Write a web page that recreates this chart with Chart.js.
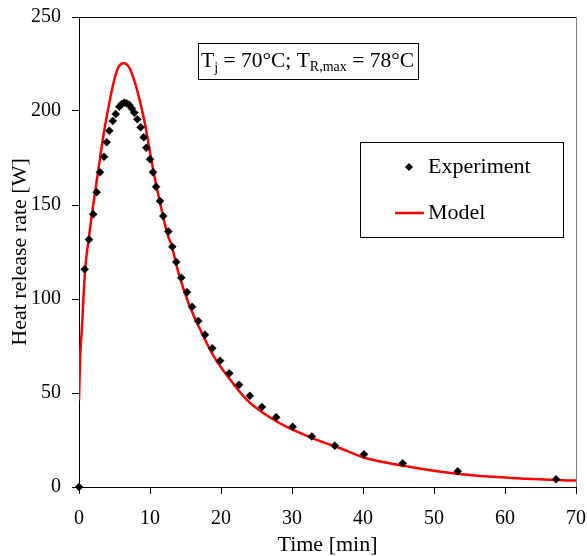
<!DOCTYPE html>
<html lang="en">
  <head>
    <meta charset="UTF-8" />
    <script src="https://cdn.jsdelivr.net/npm/chart.js@4.4.0/dist/chart.umd.min.js"></script>
    <title>Heat release rate</title>
    <style>
      body { margin: 0; background: #fff; }
    </style>
  </head>
  <body>
    <canvas id="myChart" width="587" height="556"></canvas>

    <script>
      // experiment (diamonds)
      const expTime = [0, 0.8, 1.41, 2.01, 2.49, 2.96, 3.52, 3.9, 4.27, 4.75, 5.17, 5.68, 6.01, 6.38, 6.72, 7.08,
        7.42, 7.79, 8.21, 8.69, 9.11, 9.48, 10.0, 10.42, 10.85, 11.41, 11.87, 12.58, 13.14, 13.7, 14.41, 15.21,
        15.92, 16.8, 17.75, 18.77, 19.87, 21.17, 22.54, 24.06, 25.77, 27.77, 30.1, 32.79, 36.03, 40.14, 45.59,
        53.34, 67.18];
      const expHeat = [0, 115.8, 131.6, 145.1, 156.8, 167.4, 175.7, 183.4, 189.5, 194.7, 198.4, 202.3, 203.7, 204.4,
        204.1, 203.2, 201.4, 199.1, 195.6, 191.3, 186.0, 180.5, 174.3, 167.4, 159.7, 152.1, 144.1, 135.9, 127.8,
        119.7, 111.3, 103.6, 95.9, 88.3, 81.0, 73.8, 67.2, 60.5, 54.4, 48.5, 42.6, 37.1, 32.0, 26.9, 22.0, 17.4,
        12.6, 8.4, 4.1];

      // model curve
      const modelTime = [0, 0.15, 0.4, 0.85, 1.3, 2.0, 2.7, 3.4, 4.1, 4.8, 5.5, 6.3, 7.1, 7.8, 8.6, 9.3, 10.0, 10.7,
        11.6, 12.5, 13.0, 14.0, 15.4, 17.1, 18.9, 21.3, 23.6, 26.0, 28.5, 33.2, 36.8, 40.0, 45.7, 53.2, 61.7, 70];
      const modelHeat = [46, 68, 84, 115, 130, 150, 168, 186, 201, 214, 223, 225.4, 223, 216, 205, 193, 178, 164,
        148, 134, 129, 114, 98, 83.5, 70, 57, 46.5, 39.2, 33.5, 25.5, 20.6, 15.8, 11.3, 7, 4.6, 3.4];

      const xTicks = [0, 10, 20, 30, 40, 50, 60, 70];
      const yTicks = [0, 50, 100, 150, 200, 250];

      const serif = "'Liberation Serif', 'Times New Roman', serif";

      // plot frame, legend box and the temperature label
      const extras = {
        id: "extras",
        afterDraw(chart) {
          const ctx = chart.ctx;
          const a = chart.chartArea;
          ctx.save();
          ctx.lineWidth = 1;
          ctx.strokeStyle = "#000";
          ctx.beginPath();
          ctx.moveTo(a.left, a.top + 0.5);
          ctx.lineTo(a.right, a.top + 0.5);
          ctx.stroke();
          ctx.strokeStyle = "#808080";
          ctx.beginPath();
          ctx.moveTo(a.right + 0.5, a.top);
          ctx.lineTo(a.right + 0.5, a.bottom);
          ctx.stroke();

          // label box
          ctx.fillStyle = "#fff";
          ctx.fillRect(198, 43, 220, 36);
          ctx.strokeStyle = "#000";
          ctx.strokeRect(198.5, 43.5, 220, 36);
          ctx.fillStyle = "#000";
          ctx.textBaseline = "alphabetic";
          ctx.textAlign = "left";
          const big = "21.5px " + serif;
          const small = "14px " + serif;
          let x = 201;
          const base = 67;
          const parts = [
            ["T", big, 0],
            ["j", small, 5],
            [" = 70°C; T", big, 0],
            ["R,max", small, 4],
            [" = 78°C", big, 0],
          ];
          parts.forEach(([t, f, dy]) => {
            ctx.font = f;
            ctx.fillText(t, x, base + dy);
            x += ctx.measureText(t).width;
          });

          // legend
          ctx.fillStyle = "#fff";
          ctx.fillRect(360, 142, 203, 95);
          ctx.strokeRect(360.5, 142.5, 203, 95);
          ctx.fillStyle = "#000";
          ctx.beginPath();
          ctx.moveTo(409, 163);
          ctx.lineTo(413, 167);
          ctx.lineTo(409, 171);
          ctx.lineTo(405, 167);
          ctx.closePath();
          ctx.fill();
          ctx.strokeStyle = "#ff0000";
          ctx.lineWidth = 2.5;
          ctx.beginPath();
          ctx.moveTo(395, 213);
          ctx.lineTo(424, 213);
          ctx.stroke();
          ctx.font = "22px " + serif;
          ctx.textBaseline = "middle";
          ctx.fillText("Experiment", 428, 167);
          ctx.fillText("Model", 428, 213);
          ctx.restore();
        },
      };

      setup();
      function setup() {
        const ctx = document.getElementById("myChart").getContext("2d");
        const myChart = new Chart(ctx, {
          type: "scatter",
          data: {
            datasets: [
              {
                label: "Experiment",
                data: expTime.map((t, i) => ({ x: t, y: expHeat[i] })),
                pointStyle: "rectRot",
                pointRadius: 4,
                backgroundColor: "#000",
                borderColor: "#000",
                borderWidth: 0.5,
                clip: false,
              },
              {
                label: "Model",
                type: "line",
                data: modelTime.map((t, i) => ({ x: t, y: modelHeat[i] })),
                borderColor: "#ff0000",
                borderWidth: 2.5,
                pointRadius: 0,
                cubicInterpolationMode: "monotone",
                fill: false,
              },
            ],
          },
          options: {
            responsive: false,
            animation: false,
            devicePixelRatio: 1,
            layout: { padding: { left: 0, top: 17, right: 11, bottom: 0 } },
            plugins: { legend: { display: false }, tooltip: { enabled: false } },
            scales: {
              x: {
                type: "linear",
                min: 0,
                max: 70,
                afterFit: (s) => {
                  s.height = 69;
                  s.paddingLeft = 0;
                  s.paddingRight = 0;
                },
                afterBuildTicks: (s) => { s.ticks = xTicks.map((v) => ({ value: v })); },
                border: { color: "#000", width: 1 },
                grid: { drawOnChartArea: false, tickLength: 7, color: "#000" },
                ticks: { color: "#000", padding: 13, font: { family: serif, size: 20 } },
                title: {
                  display: true,
                  text: "Time [min]",
                  color: "#000",
                  padding: 0,
                  font: { family: serif, size: 22, lineHeight: 1 },
                },
              },
              y: {
                min: 0,
                max: 250,
                afterFit: (s) => {
                  s.width = 79;
                  s.paddingTop = 0;
                  s.paddingBottom = 0;
                },
                afterBuildTicks: (s) => { s.ticks = yTicks.map((v) => ({ value: v })); },
                border: { color: "#000", width: 1 },
                grid: { drawOnChartArea: false, tickLength: 7, color: "#000" },
                ticks: { color: "#000", padding: 11, font: { family: serif, size: 20 } },
                title: {
                  display: true,
                  text: "Heat release rate [W]",
                  color: "#000",
                  padding: { top: 9, bottom: 0 },
                  font: { family: serif, size: 22, lineHeight: 1 },
                },
              },
            },
          },
          plugins: [extras],
        });
      }
    </script>
  </body>
</html>
